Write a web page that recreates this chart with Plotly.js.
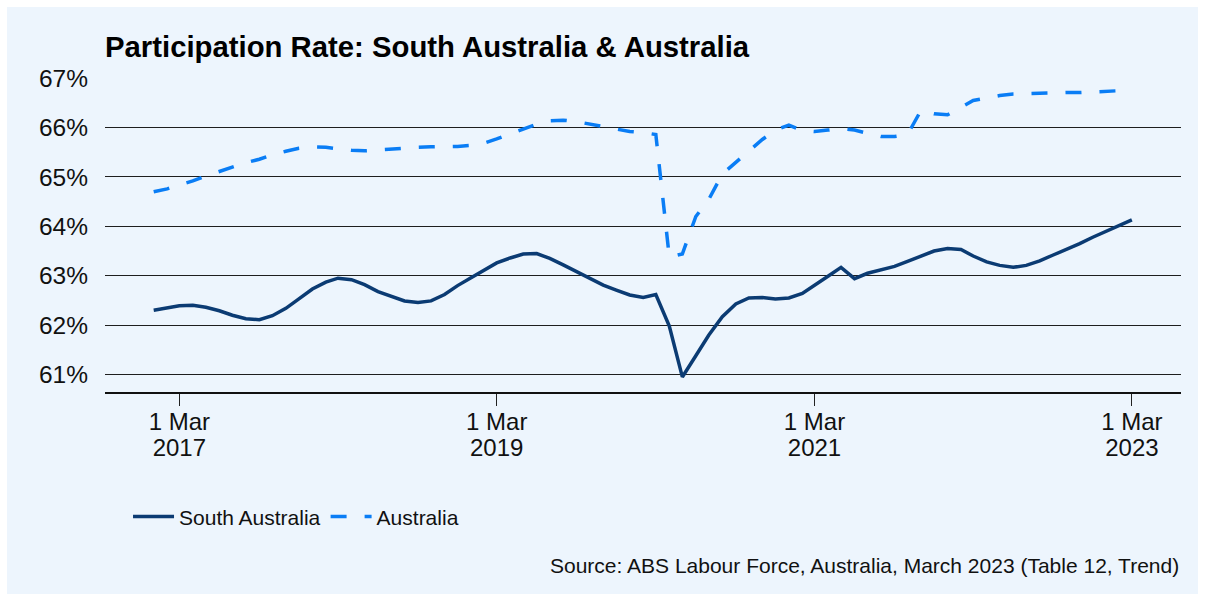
<!DOCTYPE html>
<html>
<head>
<meta charset="utf-8">
<script src="https://cdn.plot.ly/plotly-3.0.1.min.js"></script>
<style>
  html, body { margin: 0; padding: 0; background: #ffffff; }
  #chart { position: absolute; left: 7px; top: 7px; width: 1191px; height: 587px; }
</style>
</head>
<body>
<div id="chart"></div>
<script>
const months = [
  '2017-01-01','2017-02-01','2017-03-01','2017-04-01','2017-05-01','2017-06-01','2017-07-01','2017-08-01','2017-09-01','2017-10-01','2017-11-01','2017-12-01',
  '2018-01-01','2018-02-01','2018-03-01','2018-04-01','2018-05-01','2018-06-01','2018-07-01','2018-08-01','2018-09-01','2018-10-01','2018-11-01','2018-12-01',
  '2019-01-01','2019-02-01','2019-03-01','2019-04-01','2019-05-01','2019-06-01','2019-07-01','2019-08-01','2019-09-01','2019-10-01','2019-11-01','2019-12-01',
  '2020-01-01','2020-02-01','2020-03-01','2020-04-01','2020-05-01','2020-06-01','2020-07-01','2020-08-01','2020-09-01','2020-10-01','2020-11-01','2020-12-01',
  '2021-01-01','2021-02-01','2021-03-01','2021-04-01','2021-05-01','2021-06-01','2021-07-01','2021-08-01','2021-09-01','2021-10-01','2021-11-01','2021-12-01',
  '2022-01-01','2022-02-01','2022-03-01','2022-04-01','2022-05-01','2022-06-01','2022-07-01','2022-08-01','2022-09-01','2022-10-01','2022-11-01','2022-12-01',
  '2023-01-01','2023-02-01','2023-03-01'
];

const southAustralia = [
  62.30, 62.35, 62.39, 62.40, 62.36, 62.29, 62.20, 62.13, 62.11, 62.19, 62.34, 62.53,
  62.73, 62.87, 62.95, 62.92, 62.82, 62.68, 62.58, 62.49, 62.46, 62.49, 62.62, 62.80,
  62.96, 63.11, 63.26, 63.36, 63.44, 63.45, 63.35, 63.22, 63.08, 62.95, 62.81, 62.71,
  62.61, 62.56, 62.62, 61.98, 60.95, 61.38, 61.80, 62.17, 62.43, 62.55, 62.56, 62.53,
  62.55, 62.64, 62.80, 62.99, 63.17, 62.94, 63.05, 63.12, 63.19, 63.29, 63.40, 63.50,
  63.55, 63.53, 63.40, 63.28, 63.21, 63.17, 63.21, 63.30, 63.42, 63.53, 63.65, 63.78,
  63.90, 64.01, 64.13
];

const australia = [
  64.70, 64.76, 64.84, 64.92, 65.02, 65.11, 65.20, 65.29, 65.36, 65.45, 65.52, 65.58,
  65.61, 65.60, 65.57, 65.54, 65.53, 65.55, 65.57, 65.59, 65.60, 65.61, 65.61, 65.62,
  65.64, 65.69, 65.77, 65.87, 65.98, 66.07, 66.14, 66.15, 66.12, 66.07, 66.02, 65.96,
  65.92, 65.90, 65.86, 63.38, 63.44, 64.20, 64.55, 65.06, 65.29, 65.53, 65.76, 65.95,
  66.05, 65.94, 65.92, 65.95, 65.98, 65.95, 65.88, 65.82, 65.82, 65.86, 66.35, 66.28,
  66.26, 66.42, 66.55, 66.60, 66.65, 66.68, 66.69, 66.70, 66.71, 66.71, 66.71, 66.72,
  66.74, 66.75, 66.76
];

const xTickVals = ['2017-03-01', '2019-03-01', '2021-03-01', '2023-03-01'];
const xTickDay = ['1 Mar', '1 Mar', '1 Mar', '1 Mar'];
const xTickYear = ['2017', '2019', '2021', '2023'];
const yTickVals = [61, 62, 63, 64, 65, 66, 67];
const yTickText = ['61%', '62%', '63%', '64%', '65%', '66%', '67%'];

const FONT = 'Liberation Sans, Arial, Helvetica, sans-serif';
const big = s => '<span style="font-size:24px">' + s + '</span>';
const xTickText = xTickVals.map((v, i) => big(xTickDay[i]) + '<br>' + big(xTickYear[i]));

const traces = [
  {
    x: months, y: southAustralia, type: 'scatter', mode: 'lines',
    name: 'South Australia',
    line: { color: '#0B3B73', width: 3.5 },
    hoverinfo: 'skip'
  },
  {
    x: months, y: australia, type: 'scatter', mode: 'lines',
    name: 'Australia',
    line: { color: '#0A7DF5', width: 3.5, dash: '16px,18px' },
    hoverinfo: 'skip'
  }
];

const layout = {
  width: 1191, height: 587,
  paper_bgcolor: '#EDF5FD',
  plot_bgcolor: '#EDF5FD',
  font: { family: FONT, color: '#111111', size: 24 },
  margin: { l: 98, r: 17, t: 71, b: 202 },
  title: {
    text: '<b>Participation Rate: South Australia & Australia</b>',
    font: { family: FONT, size: 29.3, color: '#000000' },
    x: 0, xref: 'paper', xanchor: 'left',
    y: 1 - 40 / 587, yref: 'container', yanchor: 'middle'
  },
  xaxis: {
    type: 'date',
    range: ['2016-09-11', '2023-06-22'],
    tickmode: 'array', tickvals: xTickVals, ticktext: xTickText,
    ticks: 'outside', ticklen: 12, tickwidth: 1, tickcolor: '#222222',
    ticklabelstandoff: 0,
    showline: true, linecolor: '#111111', linewidth: 1.5,
    showgrid: false, zeroline: false,
    tickfont: { family: FONT, size: 20, color: '#111111' }
  },
  yaxis: {
    range: [60.645, 67.005],
    tickmode: 'array', tickvals: yTickVals, ticktext: yTickText,
    showgrid: true, gridcolor: '#1E1E1E', gridwidth: 1,
    zeroline: false, showline: false, ticks: '',
    ticklabelstandoff: 16,
    tickfont: { family: FONT, size: 24.5, color: '#111111' }
  },
  showlegend: true,
  legend: {
    orientation: 'h',
    x: 0.0214, xanchor: 'left',
    y: -0.398, yanchor: 'middle',
    bgcolor: 'rgba(0,0,0,0)',
    font: { family: FONT, size: 21, color: '#111111' },
    itemwidth: 41
  },
  annotations: [
    {
      text: 'Source: ABS Labour Force, Australia, March 2023 (Table 12, Trend)',
      xref: 'paper', yref: 'paper', x: 1, y: -0.554,
      xanchor: 'right', yanchor: 'middle', showarrow: false,
      font: { family: FONT, size: 21, color: '#111111' }
    }
  ]
};

Plotly.newPlot('chart', traces, layout, { displayModeBar: false, staticPlot: true });
</script>
</body>
</html>
